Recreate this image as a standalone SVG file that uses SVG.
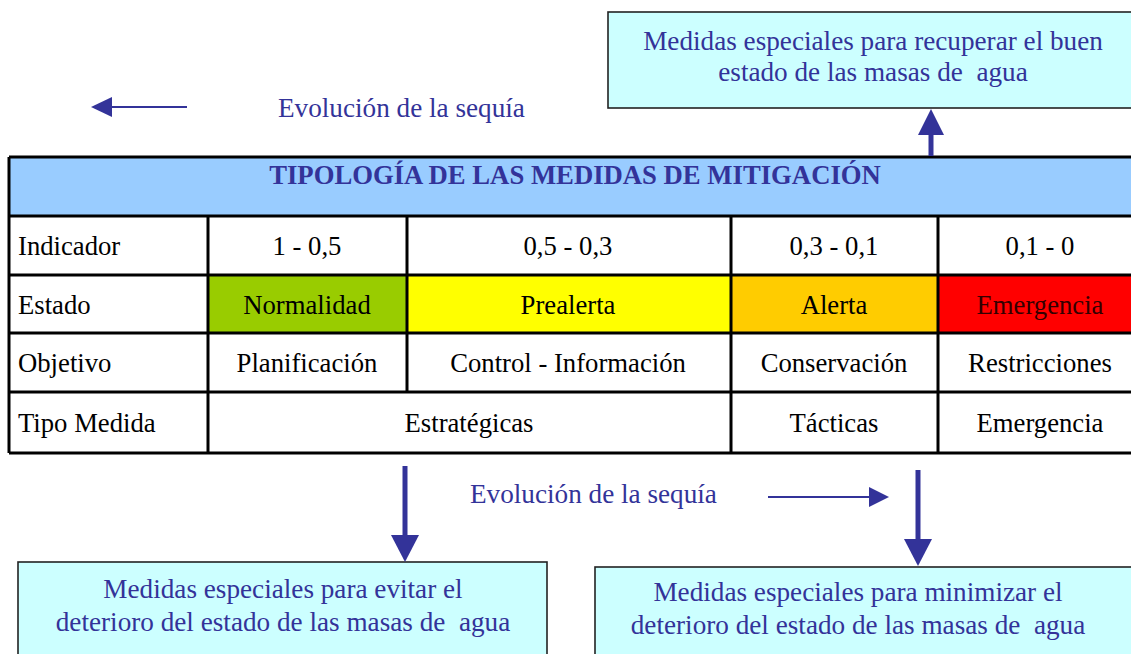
<svg xmlns="http://www.w3.org/2000/svg" width="1131" height="654" viewBox="0 0 1131 654">
<style>
text{font-family:"Liberation Serif","Times New Roman",serif;font-size:26.7px;white-space:pre}
.b{fill:#333399;font-size:27.2px}
.k{fill:#000}
.m{text-anchor:middle}
.box{fill:#CCFFFF;stroke:#222;stroke-width:1.6}
.grid{stroke:#000;stroke-width:3;fill:none}
.arr{fill:#333399;stroke:none}
.ln{stroke:#333399;fill:none}
</style>
<rect width="1131" height="654" fill="#fff"/>
<g id="node-top">
<rect class="box" x="608" y="12" width="540" height="96"/>
<text class="b m" x="873" y="50">Medidas especiales para recuperar el buen</text>
<text class="b m" x="873" y="81">estado de las masas de  agua</text>
</g>
<g id="label-top">
<text class="b" x="278" y="117">Evolución de la sequía</text>
</g>
<g id="table">
<rect x="9" y="157" width="1140" height="59" fill="#99CCFF"/>
<rect x="208" y="275" width="199" height="58" fill="#99CC00"/>
<rect x="407" y="275" width="324" height="58" fill="#FFFF00"/>
<rect x="731" y="275" width="207" height="58" fill="#FFCC00"/>
<rect x="938" y="275" width="211" height="58" fill="#FF0000"/>
<path class="grid" d="M9,157H1140M9,216H1140M9,275H1140M9,333H1140M9,392H1140M9,453H1140M9,157V453M208,216V453M407,216V392M731,216V453M938,216V453"/>
<text class="m" x="575" y="184" style="font-weight:bold;fill:#333399">TIPOLOGÍA DE LAS MEDIDAS DE MITIGACIÓN</text>
<text class="k" x="18" y="255">Indicador</text>
<text class="k m" x="307" y="255">1 - 0,5</text>
<text class="k m" x="568" y="255">0,5 - 0,3</text>
<text class="k m" x="834" y="255">0,3 - 0,1</text>
<text class="k m" x="1040" y="255">0,1 - 0</text>
<text class="k" x="18" y="314">Estado</text>
<text class="k m" x="307" y="314">Normalidad</text>
<text class="k m" x="568" y="314">Prealerta</text>
<text class="k m" x="834" y="314">Alerta</text>
<text class="m" x="1040" y="314" fill="#330000">Emergencia</text>
<text class="k" x="18" y="372">Objetivo</text>
<text class="k m" x="307" y="372">Planificación</text>
<text class="k m" x="568" y="372">Control - Información</text>
<text class="k m" x="834" y="372">Conservación</text>
<text class="k m" x="1040" y="372">Restricciones</text>
<text class="k" x="18" y="432">Tipo Medida</text>
<text class="k m" x="469" y="432">Estratégicas</text>
<text class="k m" x="834" y="432">Tácticas</text>
<text class="k m" x="1040" y="432">Emergencia</text>
</g>
<g id="label-bottom">
<text class="b" x="470" y="503">Evolución de la sequía</text>
</g>
<g id="node-bl">
<rect class="box" x="18" y="562" width="529" height="110"/>
<text class="b m" x="283" y="598">Medidas especiales para evitar el</text>
<text class="b m" x="283" y="631">deterioro del estado de las masas de  agua</text>
</g>
<g id="node-br">
<rect class="box" x="595" y="567" width="560" height="110"/>
<text class="b m" x="858" y="601">Medidas especiales para minimizar el</text>
<text class="b m" x="858" y="634">deterioro del estado de las masas de  agua</text>
</g>
<g id="connectors">
<line class="ln" x1="110" y1="107" x2="187" y2="107" stroke-width="2"/>
<polygon class="arr" points="91,107 112,97 112,117"/>
<line class="ln" x1="768" y1="497" x2="871" y2="497" stroke-width="2"/>
<polygon class="arr" points="889,497 869,487 869,507"/>
<line class="ln" x1="931" y1="156" x2="931" y2="132" stroke-width="5"/>
<polygon class="arr" points="931,109 918,135 944,135"/>
<line class="ln" x1="405" y1="466" x2="405" y2="538" stroke-width="5"/>
<polygon class="arr" points="405,562 391,535 419,535"/>
<line class="ln" x1="918" y1="470" x2="918" y2="542" stroke-width="5"/>
<polygon class="arr" points="918,566 904,539 932,539"/>
</g>
</svg>
